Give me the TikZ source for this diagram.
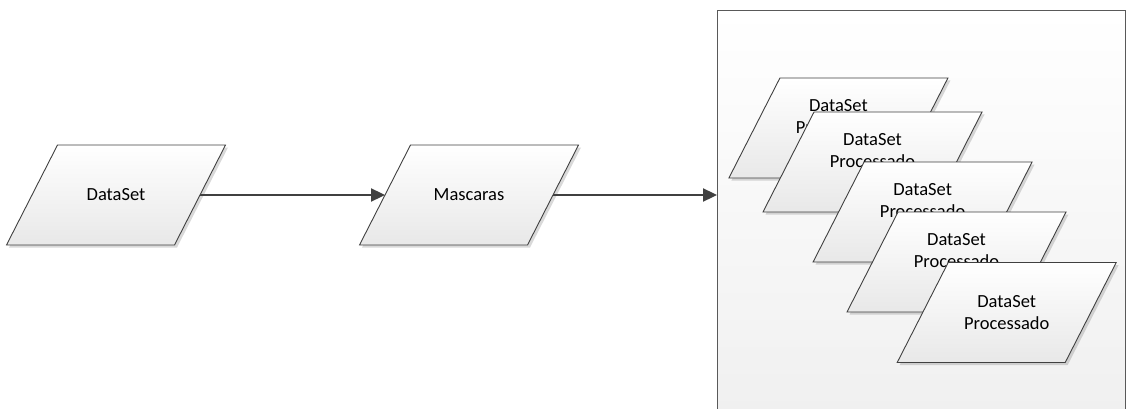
\documentclass[tikz,border=0pt]{standalone}
\usepackage{fontspec}
\setmainfont{Carlito}
\usetikzlibrary{shadows,arrows.meta}
\makeatletter
\pgfdeclareshape{slantbox}{%
  \inheritsavedanchors[from=rectangle]
  \inheritanchorborder[from=rectangle]
  \inheritanchor[from=rectangle]{center}
  \inheritanchor[from=rectangle]{text}
  \inheritanchor[from=rectangle]{base}
  \inheritanchor[from=rectangle]{mid}
  \inheritanchor[from=rectangle]{north}
  \inheritanchor[from=rectangle]{south}
  \inheritanchor[from=rectangle]{east}
  \inheritanchor[from=rectangle]{west}
  \inheritanchor[from=rectangle]{north east}
  \inheritanchor[from=rectangle]{north west}
  \inheritanchor[from=rectangle]{south east}
  \inheritanchor[from=rectangle]{south west}
  \backgroundpath{%
    \southwest \pgf@xa=\pgf@x \pgf@ya=\pgf@y
    \northeast \pgf@xb=\pgf@x \pgf@yb=\pgf@y
    \pgf@xc=\pgf@yb \advance\pgf@xc by -\pgf@ya
    \pgf@xc=0.255\pgf@xc
    \pgfpathmoveto{\pgfqpoint{\dimexpr\pgf@xa-\pgf@xc\relax}{\pgf@ya}}%
    \pgfpathlineto{\pgfqpoint{\dimexpr\pgf@xb-\pgf@xc\relax}{\pgf@ya}}%
    \pgfpathlineto{\pgfqpoint{\dimexpr\pgf@xb+\pgf@xc\relax}{\pgf@yb}}%
    \pgfpathlineto{\pgfqpoint{\dimexpr\pgf@xa+\pgf@xc\relax}{\pgf@yb}}%
    \pgfpathclose
  }%
}
\makeatother
\definecolor{edge}{HTML}{404040}
\tikzset{
  para/.style={shape=slantbox, minimum width=168pt, minimum height=100pt,
    inner sep=0pt, outer sep=0pt, draw=edge, line width=0.9pt,
    top color=white, bottom color=black!9,
    drop shadow={shadow xshift=2.5pt, shadow yshift=-2.5pt, opacity=0.25, fill=black!60},
    align=center, font=\fontsize{18.5}{21.5}\selectfont},
  flow/.style={draw=edge, line width=2.3pt, -{Triangle[length=14pt,width=13pt]}},
  container/.style={draw=black!65, line width=0.9pt, top color=white, bottom color=black!6,
    minimum width=408.5pt, minimum height=412pt, inner sep=0pt, outer sep=0pt}
}
\begin{document}
\begin{tikzpicture}[x=1pt,y=-1pt]
\useasboundingbox (0,0) rectangle (1126,409);
\node[container] (box) at (921.25,216) {};
\node[para] (ds) at (116,195) {DataSet};
\node[para] (ma) at (469,195) {Mascaras};
\draw[flow] (ds) -- (ma);
\draw[flow] (ma) -- (ma -| box.west);
\node[para] (p1) at (838.4,128) {DataSet\\Processado\\[2pt]\mbox{}};
\node[para] (p2) at (872.5,162) {DataSet\\Processado\\[2pt]\mbox{}};
\node[para] (p3) at (922.6,212) {DataSet\\Processado\\[2pt]\mbox{}};
\node[para] (p4) at (956.5,262) {DataSet\\Processado\\[2pt]\mbox{}};
\node[para] (p5) at (1006.7,312.5) {DataSet\\Processado};
\end{tikzpicture}
\end{document}
